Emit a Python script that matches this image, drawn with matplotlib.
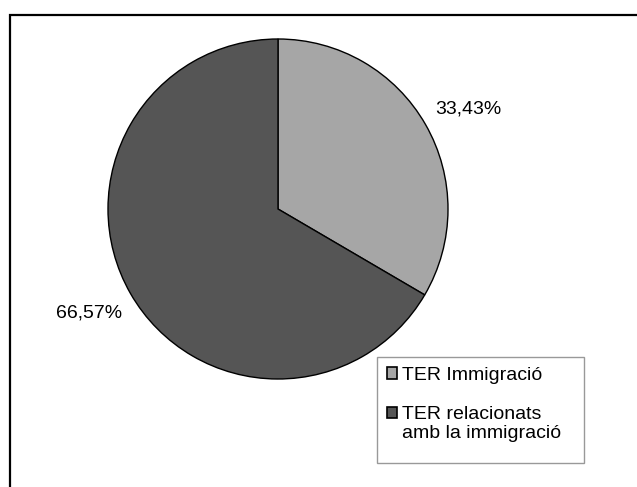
import matplotlib
matplotlib.use('Agg')
import matplotlib.pyplot as plt
from matplotlib.patches import Rectangle

plt.rcParams['font.family'] = ['Liberation Sans', 'DejaVu Sans']

# data
categories = ['TER Immigració', 'TER relacionats\namb la immigració']
values = [33.43, 66.57]
colors = ['#a6a6a6', '#555555']
pct_labels = [('%.2f%%' % v).replace('.', ',') for v in values]

W, H = 637, 487
fig = plt.figure(figsize=(W / 100, H / 100), dpi=100)
ax = fig.add_axes([0, 0, 1, 1])

# outer frame (cut at right / bottom like the source)
ax.add_patch(Rectangle((10, -20), W + 20, H - 15 + 20, fill=False,
                       edgecolor='black', linewidth=1.6))

wedges, texts = ax.pie(values, colors=colors, labels=pct_labels,
                       startangle=90, counterclock=False,
                       center=(278, H - 209), radius=170,
                       labeldistance=1.27,
                       wedgeprops=dict(edgecolor='black', linewidth=1.0),
                       textprops=dict(fontsize=14, color='black'),
                       frame=True)
# small nudges to match the original label placement
nudges = [(3, -7), (-2, 3)]
for t, (dx, dy) in zip(texts, nudges):
    x, y = t.get_position()
    t.set_position((x + dx, y + dy))
    t.set_horizontalalignment('center')
    t.set_verticalalignment('center')
ax.set_xlim(0, W)
ax.set_ylim(0, H)
ax.set_aspect('equal')
ax.axis('off')

# legend box drawn separately (Excel style: extra room at right/bottom)
ax.add_patch(Rectangle((377, H - 463), 207, 106, facecolor='white',
                       edgecolor='#999999', linewidth=1.0, zorder=4))
leg = ax.legend(wedges, categories, loc='upper left',
                bbox_to_anchor=(377 / W, 1 - 357 / H),
                fontsize=14, frameon=False,
                handlelength=0.55, handleheight=0.55, handletextpad=0.25,
                labelspacing=1.15, borderpad=0.5, borderaxespad=0)
leg.set_zorder(5)
for h in leg.legend_handles:
    h.set_linewidth(1.2)
for t in leg.get_texts():
    t.set_linespacing(1.15)
# square of the two-line entry sits on its first line
leg.legend_handles[1].set_y(leg.legend_handles[1].get_y() + 8)

fig.savefig('out.png', dpi=100)
